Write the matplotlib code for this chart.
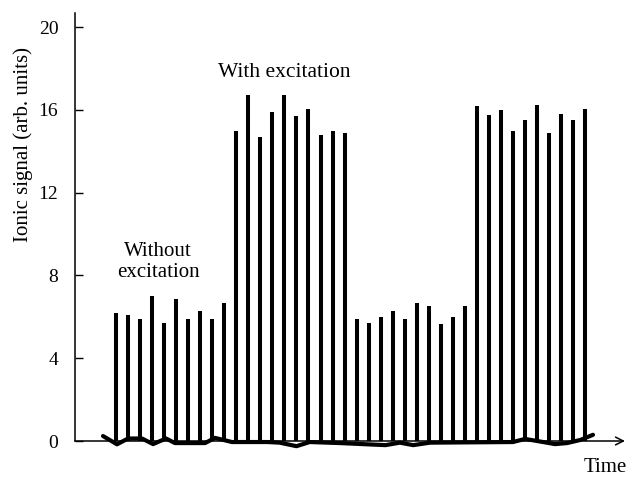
import matplotlib.pyplot as plt

plt.rcParams['font.family'] = ['Liberation Serif', 'DejaVu Serif']

# 펄스별 이온 신호 (네 구간, 각 10개)
without_1 = [6.2, 6.1, 5.9, 7.0, 5.7, 6.85, 5.9, 6.3, 5.9, 6.65]
with_1 = [15.0, 16.7, 14.7, 15.9, 16.7, 15.7, 16.05, 14.8, 15.0, 14.9]
without_2 = [5.9, 5.7, 6.0, 6.3, 5.9, 6.65, 6.5, 5.65, 6.0, 6.5]
with_2 = [16.2, 15.75, 16.0, 15.0, 15.5, 16.25, 14.9, 15.8, 15.5, 16.05]
signal = without_1 + with_1 + without_2 + with_2
pulse = list(range(len(signal)))

# 바닥 잡음선 (손으로 읽은 점)
base_x = [-1.08, 0.08, 1.0, 2.16, 3.08, 4.16, 4.9, 7.4, 8.23, 9.64, 12.6, 13.6,
          15.0, 16.1, 18.6, 22.4, 23.6, 24.7, 26.1, 33.0, 34.0, 35.5, 36.5,
          37.5, 38.6, 39.65]
base_y = [0.24, -0.16, 0.12, 0.12, -0.15, 0.12, -0.1, -0.1, 0.15, -0.05, -0.05,
          -0.08, -0.25, -0.05, -0.1, -0.2, -0.08, -0.2, -0.08, -0.05, 0.1,
          -0.05, -0.15, -0.1, 0.05, 0.3]

y_ticks = [0, 4, 8, 12, 16, 20]

fig = plt.figure(figsize=(6.34, 4.78), dpi=100)
ax = fig.add_axes([75 / 634, 1 - 441 / 478, 550 / 634, 428 / 478])

ax.vlines(pulse, 0, signal, colors='black', linewidth=2.9)
ax.plot(base_x, base_y, color='black', linewidth=3.0, clip_on=False,
        solid_capstyle='round')

ax.set_xlim(-3.41, 42.31)
ax.set_ylim(0, 20.68)
ax.set_yticks(y_ticks)
ax.set_xticks([])
ax.tick_params(axis='y', direction='in', length=6, width=1, pad=12, labelsize=14)

for s in ['top', 'right', 'bottom']:
    ax.spines[s].set_visible(False)
ax.spines['left'].set_linewidth(1.1)

# x축 화살표
ax.annotate('', xy=(1.0, 0), xytext=(0, 0), xycoords='axes fraction',
            arrowprops=dict(arrowstyle='->', lw=1.1, color='black',
                            mutation_scale=14, shrinkA=0, shrinkB=0))

ax.text(14.0, 17.8, 'With excitation', ha='center', va='center', fontsize=15.5)
ax.text(3.5, 8.67, 'Without\nexcitation', ha='center', va='center',
        fontsize=15, linespacing=1.15)
fig.text(605 / 634, 1 - 468 / 478, 'Time', ha='center', va='center', fontsize=15)
fig.text(23 / 634, 1 - 145 / 478, 'Ionic signal (arb. units)', rotation=90,
         ha='center', va='center', fontsize=15)

fig.savefig('out.png', dpi=100)
